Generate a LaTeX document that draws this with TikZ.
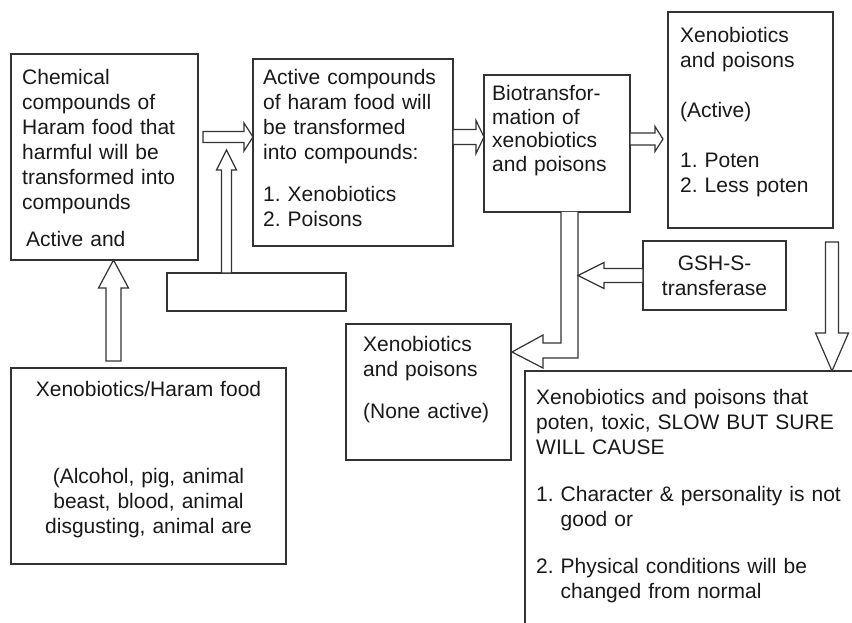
\documentclass[tikz,border=0pt]{standalone}
\usepackage{fontspec}
\setmainfont{Liberation Sans}
\usetikzlibrary{calc}
\frenchspacing

% hollow block arrow: from, tip, half shaft, half head, head length
\newcommand{\hollowarrow}[5]{%
	\coordinate (hb) at ($(#2)!#5!(#1)$);
	\draw[blk] ($(#1)!#3!90:(#2)$) -- ($(hb)!#3!-90:(#1)$) -- ($(hb)!#4!-90:(#1)$) -- (#2)
		-- ($(hb)!#4!90:(#1)$) -- ($(hb)!#3!90:(#1)$) -- ($(#1)!#3!-90:(#2)$) -- cycle;
}

\begin{document}
\begin{tikzpicture}[x=1pt, y=-1pt, font=\fontsize{21}{25}\selectfont]
	\tikzstyle{comp} = [
		rectangle, draw=black!80, line width=1.2pt, inner sep=0pt, outer sep=0pt, anchor=north west
	]
	\tikzstyle{caption} = [
		anchor=base west, inner sep=0pt, text width=320pt, align=left, text=black!90
	]
	\tikzstyle{blk} = [
		draw=black!80, line width=1.2pt, fill=white, line join=miter
	]

	\useasboundingbox (0,0) rectangle (852,623);
	\clip (0,0) rectangle (852,623);

	% Chemical compounds
	\node (b1) [comp, minimum width=187, minimum height=206] at (11,54) {};
	\node (b1t) [caption] at ($(b1.north west)+(11,31)$) {Chemical\\compounds of\\Haram food that\\harmful will be\\transformed into\\compounds\\[12pt]\hspace*{4pt}Active and};

	% Active compounds
	\node (b2) [comp, minimum width=200, minimum height=187] at (253,59) {};
	\node (b2t) [caption] at ($(b2.north west)+(10,26)$) {Active compounds\\of haram food will\\be transformed\\into compounds:\\[17pt]1. Xenobiotics\\2. Poisons};

	% empty box
	\node (emp) [comp, minimum width=179, minimum height=38] at (167,273) {};

	% Biotransformation
	\node (b3) [comp, minimum width=146, minimum height=137] at (484,75) {};
	\node (b3t) [caption, font=\fontsize{21}{23.5}\selectfont] at ($(b3.north west)+(8,26)$) {Biotransfor-\\mation of\\xenobiotics\\and poisons};

	% Active xenobiotics
	\node (b4) [comp, minimum width=165, minimum height=216] at (668,12) {};
	\node (b4t) [caption] at ($(b4.north west)+(12,31)$) {Xenobiotics\\and poisons\\[25pt](Active)\\[25pt]1. Poten\\2. Less poten};

	% GSH
	\node (gsh) [comp, minimum width=143, minimum height=69, align=center, text=black!90] at (643,241) {GSH-S-\\transferase};

	% None active
	\node (b5) [comp, minimum width=165, minimum height=136] at (346,324) {};
	\node (b5t) [caption] at ($(b5.north west)+(17,27)$) {Xenobiotics\\and poisons\\[17pt](None active)};

	% Effects
	\node (b6) [comp, minimum width=360, minimum height=300] at (525,371) {};
	\node (b6t) [caption] at ($(b6.north west)+(11,33)$) {Xenobiotics and poisons that\\poten, toxic, SLOW BUT SURE\\WILL CAUSE\\[22pt]1. Character \& personality is not\\\phantom{1. }good or\\[22pt]2. Physical conditions will be\\\phantom{2. }changed from normal};

	% Haram food
	\node (b7) [comp, minimum width=275, minimum height=196] at (11,368) {};
	\node (b7t) [caption, anchor=base, text width=275pt, align=center] at ($(b7.north)+(0,28)$) {Xenobiotics/Haram food\\[62pt](Alcohol, pig, animal\\beast, blood, animal\\disgusting, animal are};

	% arrow ends
	\coordinate (a1s) at ($(b1.north east)+(5,83)$);
	\coordinate (a1t) at (b2.west |- a1s);
	\coordinate (a2s) at ($(emp.north west)+(59.5,0)$);
	\coordinate (a2t) at ($(a2s |- a1s)+(0,13)$);
	\coordinate (a3s) at (b2.east |- a1s);
	\coordinate (a3t) at (b3.west |- a1s);
	\coordinate (a4s) at ($(b3.east |- a1s)+(0,2)$);
	\coordinate (a4t) at ($(b4.west |- a1s)+(-5,2)$);
	\coordinate (a7s) at ($(b4.south east)+(-1,14)$);
	\coordinate (a7t) at (a7s |- b6.north);
	\coordinate (a8s) at ($(b7.north west)+(102.5,-7)$);
	\coordinate (a8t) at (a8s |- b1.south);
	\coordinate (sh1) at ($(b3.south west)+(77,0)$);
	\coordinate (sh2) at ($(b3.south west)+(94,0)$);
	\coordinate (a5t) at (sh2 |- gsh.west);

	\hollowarrow{a1s}{a1t}{5.5pt}{14pt}{9pt}
	\hollowarrow{a2s}{a2t}{5pt}{10pt}{20pt}
	\hollowarrow{a3s}{a3t}{7.5pt}{16.5pt}{8pt}
	\hollowarrow{a4s}{a4t}{6pt}{12.5pt}{8pt}
	\hollowarrow{a7s}{a7t}{6.5pt}{16.5pt}{38pt}
	\hollowarrow{a8s}{a8t}{7.5pt}{15pt}{28pt}

	% bent arrow to None active
	\draw[blk] (sh1) -- ++(0,131) -- ++(-18,0) -- ++(0,-8) -- ($(b5.north east)+(1,28)$)
		-- ++(31,16) -- ++(0,-10) -- ++(35,0) -- (sh2);
	\hollowarrow{gsh.west}{a5t}{7pt}{13pt}{26pt}
\end{tikzpicture}
\end{document}
